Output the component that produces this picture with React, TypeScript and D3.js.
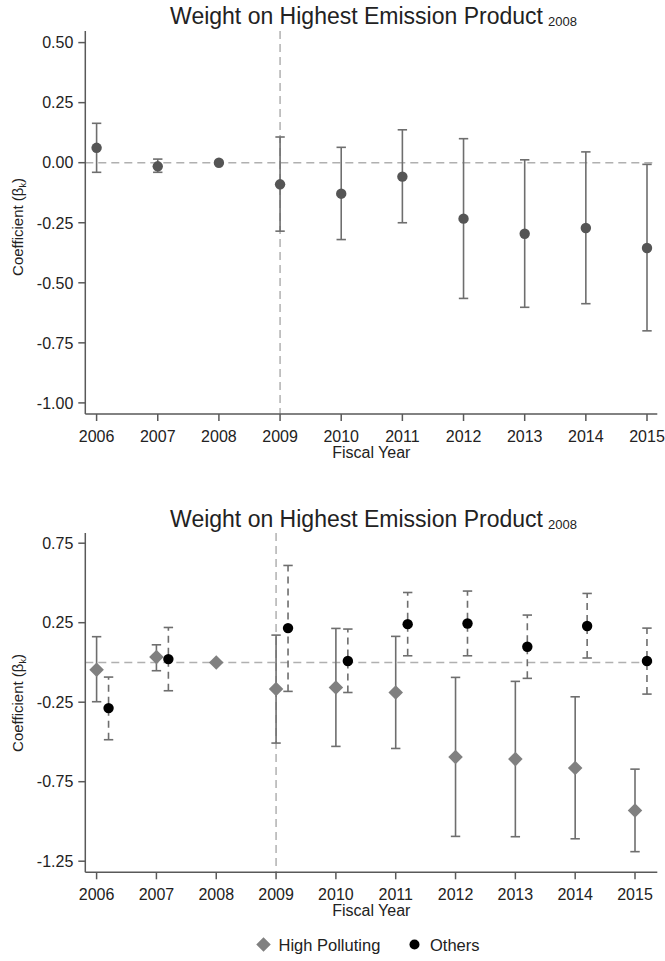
import React from "react";
import * as d3 from "d3";

// ---------- DATA ----------
const years = [2006, 2007, 2008, 2009, 2010, 2011, 2012, 2013, 2014, 2015];

// Top panel: pooled coefficient
const topCoef = [0.062, -0.015, 0.0, -0.09, -0.129, -0.058, -0.233, -0.296, -0.272, -0.355];
const topLo = [-0.04, -0.04, 0.0, -0.285, -0.32, -0.25, -0.565, -0.602, -0.587, -0.7];
const topHi = [0.164, 0.015, 0.0, 0.107, 0.064, 0.137, 0.1, 0.012, 0.045, -0.007];

// Bottom panel: High Polluting
const hpCoef = [-0.046, 0.034, 0.0, -0.167, -0.157, -0.189, -0.595, -0.608, -0.664, -0.931];
const hpLo = [-0.247, -0.052, 0.0, -0.507, -0.528, -0.541, -1.094, -1.096, -1.109, -1.19];
const hpHi = [0.162, 0.111, 0.0, 0.172, 0.214, 0.164, -0.094, -0.119, -0.216, -0.671];

// Bottom panel: Others (no 2008 estimate)
const othYears = [2006, 2007, 2009, 2010, 2011, 2012, 2013, 2014, 2015];
const othCoef = [-0.287, 0.021, 0.216, 0.009, 0.241, 0.245, 0.099, 0.229, 0.009];
const othLo = [-0.486, -0.178, -0.182, -0.189, 0.042, 0.042, -0.1, 0.028, -0.199];
const othHi = [-0.092, 0.22, 0.61, 0.21, 0.44, 0.449, 0.298, 0.434, 0.216];

const topYTicks = [0.5, 0.25, 0, -0.25, -0.5, -0.75, -1.0];
const botYTicks = [0.75, 0.25, -0.25, -0.75, -1.25];

const titleMain = "Weight on Highest Emission Product";
const titleSub = "2008";
const xTitle = "Fiscal Year";
const legendLabels = ["High Polluting", "Others"];
const eventYear = 2009;
const othOffset = 0.2;

// ---------- STYLE ----------
const FONT = "Liberation Sans, Arial, sans-serif";
const AXIS = "#595959";
const TEXT = "#222";
const REF = "#b0b0b0";
const BAR = "#6e6e6e";
const PT = "#555555";
const HP = "#808080";

const fmt = d3.format(".2f");
const tf = (v: number) => (v === 0 ? "0.00" : fmt(v).replace("\u2212", "-"));

function YTitle({ x, y }: { x: number; y: number }) {
  return (
    <text
      transform={`translate(${x},${y}) rotate(-90)`}
      textAnchor="middle"
      fontFamily={FONT}
      fontSize={15}
      fill={TEXT}
    >
      Coefficient (β<tspan fontSize={9} dy={3}>k</tspan>
      <tspan dy={-3}>)</tspan>
    </text>
  );
}

function Title({ x, y }: { x: number; y: number }) {
  return (
    <text x={x} y={y} textAnchor="middle" fontFamily={FONT} fill={TEXT} fontSize={23}>
      {titleMain}
      <tspan fontSize={13} dx={5} dy={2}>
        {titleSub}
      </tspan>
    </text>
  );
}

function Axes({
  x,
  y,
  yTicks,
  x0,
  x1,
  y0,
  y1,
}: {
  x: d3.ScaleLinear<number, number>;
  y: d3.ScaleLinear<number, number>;
  yTicks: number[];
  x0: number;
  x1: number;
  y0: number;
  y1: number;
}) {
  return (
    <g>
      <line x1={x0} x2={x1} y1={y(0)} y2={y(0)} stroke={REF} strokeWidth={1.5} strokeDasharray="8,5" />
      <line x1={x(eventYear)} x2={x(eventYear)} y1={y0} y2={y1} stroke={REF} strokeWidth={1.5} strokeDasharray="8,5" />
      <line x1={x0} x2={x0} y1={y0} y2={y1} stroke={AXIS} strokeWidth={1.5} />
      {yTicks.map((t) => (
        <g key={t}>
          <line x1={x0 - 7} x2={x0} y1={y(t)} y2={y(t)} stroke={AXIS} strokeWidth={1.5} />
          <text x={x0 - 12} y={y(t)} dy="0.36em" textAnchor="end" fontFamily={FONT} fontSize={16} fill={TEXT}>
            {tf(t)}
          </text>
        </g>
      ))}
      <line x1={x0} x2={x1} y1={y1} y2={y1} stroke={AXIS} strokeWidth={1.5} />
      {years.map((yr) => (
        <g key={yr}>
          <line x1={x(yr)} x2={x(yr)} y1={y1} y2={y1 + 7} stroke={AXIS} strokeWidth={1.5} />
          <text x={x(yr)} y={y1 + 22} dy="0.36em" textAnchor="middle" fontFamily={FONT} fontSize={16} fill={TEXT}>
            {yr}
          </text>
        </g>
      ))}
      <text x={(x0 + x1) / 2} y={y1 + 44} textAnchor="middle" fontFamily={FONT} fontSize={16} fill={TEXT}>
        {xTitle}
      </text>
    </g>
  );
}

function ErrBar({
  cx,
  lo,
  hi,
  dashed,
}: {
  cx: number;
  lo: number;
  hi: number;
  dashed?: boolean;
}) {
  const cap = 4.7;
  return (
    <g stroke={BAR} strokeWidth={1.6}>
      <line x1={cx} x2={cx} y1={lo} y2={hi} strokeDasharray={dashed ? "7,5" : undefined} />
      <line x1={cx - cap} x2={cx + cap} y1={lo} y2={lo} />
      <line x1={cx - cap} x2={cx + cap} y1={hi} y2={hi} />
    </g>
  );
}

export default function App() {
  const X0 = 85.3;
  const X1 = 657.3;

  const xT = d3.scaleLinear().domain([2006, 2015]).range([96.6, 647]);
  const yT = d3.scaleLinear().domain([0, -1]).range([162.7, 402.9]);
  const topY0 = 31;
  const topY1 = 414;

  const xB = d3.scaleLinear().domain([2006, 2015]).range([96.6, 635]);
  const yB = d3.scaleLinear().domain([0.25, -1.25]).range([622.7, 861.2]);
  const botY0 = 533;
  const botY1 = 872.3;

  const diamond = d3.symbol().type(d3.symbolDiamond2).size(135)();

  return (
    <svg
      width={665}
      height={961}
      style={{ position: "absolute", left: 0, top: 0, background: "#fff" }}
    >
      <rect width={665} height={961} fill="#fff" />
      {/* ---------- TOP PANEL ---------- */}
      <Title x={373.5} y={23.5} />
      <YTitle x={23} y={227} />
      <Axes x={xT} y={yT} yTicks={topYTicks} x0={X0} x1={X1} y0={topY0} y1={topY1} />
      {years.map((yr, i) =>
        topLo[i] !== topHi[i] ? (
          <ErrBar key={"e" + yr} cx={xT(yr)} lo={yT(topLo[i])} hi={yT(topHi[i])} />
        ) : null
      )}
      {years.map((yr, i) => (
        <circle key={"p" + yr} cx={xT(yr)} cy={yT(topCoef[i])} r={5.2} fill={PT} />
      ))}

      {/* ---------- BOTTOM PANEL ---------- */}
      <Title x={373.5} y={526.8} />
      <YTitle x={23} y={703} />
      <Axes x={xB} y={yB} yTicks={botYTicks} x0={X0} x1={X1} y0={botY0} y1={botY1} />
      {years.map((yr, i) =>
        hpLo[i] !== hpHi[i] ? (
          <ErrBar key={"he" + yr} cx={xB(yr)} lo={yB(hpLo[i])} hi={yB(hpHi[i])} />
        ) : null
      )}
      {othYears.map((yr, i) => (
        <ErrBar key={"oe" + yr} cx={xB(yr + othOffset)} lo={yB(othLo[i])} hi={yB(othHi[i])} dashed />
      ))}
      {years.map((yr, i) => (
        <path
          key={"hp" + yr}
          d={diamond as string}
          transform={`translate(${xB(yr)},${yB(hpCoef[i])})`}
          fill={HP}
        />
      ))}
      {othYears.map((yr, i) => (
        <circle key={"op" + yr} cx={xB(yr + othOffset)} cy={yB(othCoef[i])} r={5.2} fill="#000" />
      ))}

      {/* ---------- LEGEND ---------- */}
      <path d={diamond as string} transform="translate(263.5,944.5)" fill={HP} />
      <text x={278.5} y={950.5} fontFamily={FONT} fontSize={16.5} fill={TEXT}>
        {legendLabels[0]}
      </text>
      <circle cx={414.5} cy={944.5} r={5} fill="#000" />
      <text x={430} y={950.5} fontFamily={FONT} fontSize={16.5} fill={TEXT}>
        {legendLabels[1]}
      </text>
    </svg>
  );
}
